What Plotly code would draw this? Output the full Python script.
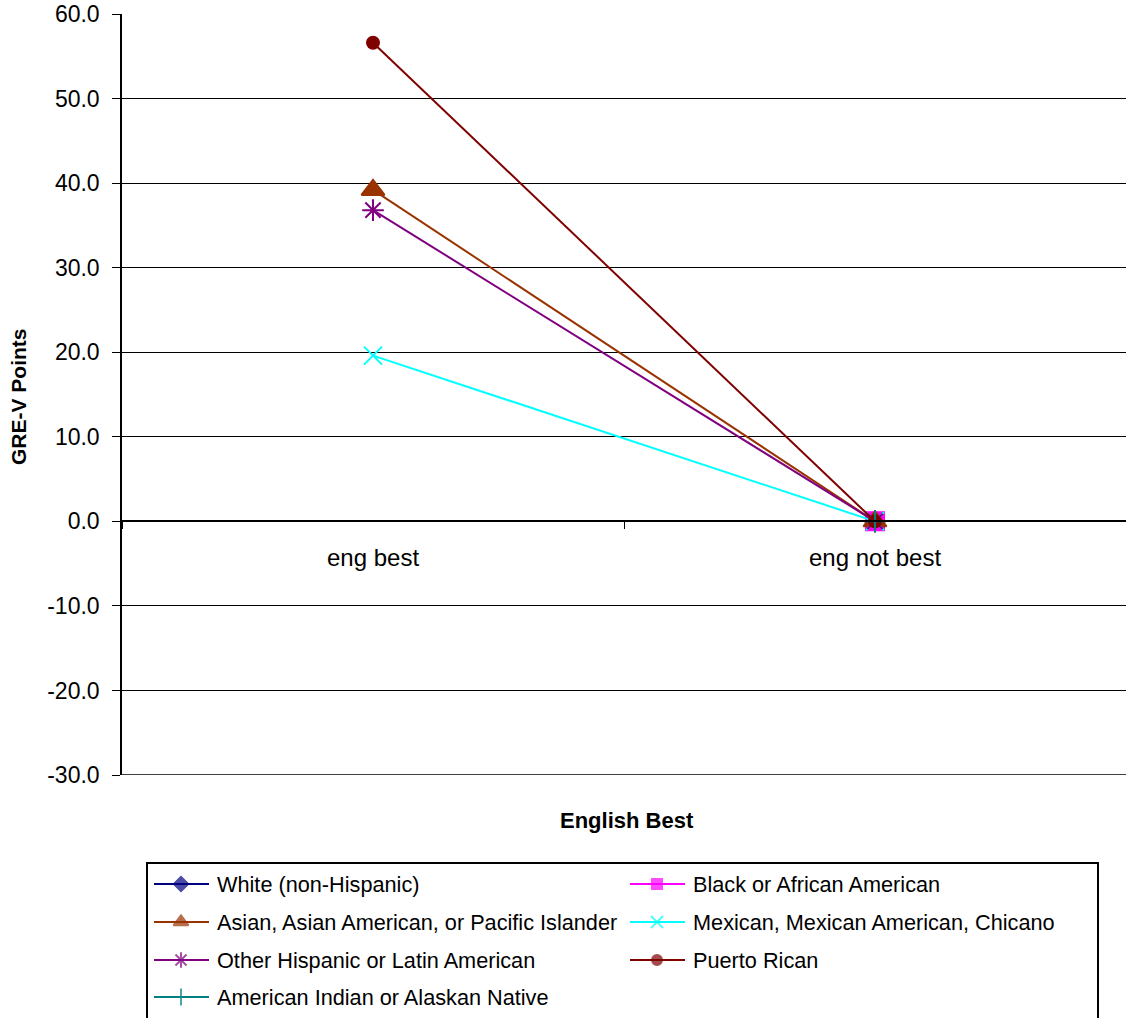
import plotly.graph_objects as go

# ---- data -------------------------------------------------------------
categories = ["eng best", "eng not best"]

series_names = [
    "White (non-Hispanic)",
    "Black or African American",
    "Asian, Asian American, or Pacific Islander",
    "Mexican, Mexican American, Chicano",
    "Other Hispanic or Latin American",
    "Puerto Rican",
    "American Indian or Alaskan Native",
]

white = [None, 0.0]
black = [None, 0.0]
asian = [39.2, 0.0]
mexican = [19.6, 0.0]
other_hispanic = [36.8, 0.0]
puerto_rican = [56.6, 0.0]
american_indian = [None, 0.0]

series_values = [white, black, asian, mexican, other_hispanic, puerto_rican, american_indian]

y_ticks = [-30, -20, -10, 0, 10, 20, 30, 40, 50, 60]

# ---- styling ----------------------------------------------------------
colors = ["#000080", "#FF00FF", "#993300", "#00FFFF", "#800080", "#800000", "#008080"]
symbols = ["diamond", "square", "triangle-up", "x-thin-open", "asterisk-open",
           "circle", "cross-thin-open"]
plot_sizes = [14, 18, 20, 18, 18, 12, 16]
legend_sizes = [11, 10, 13, 12, 13, 10, 12]

FONT = "Liberation Sans, Arial, sans-serif"
W, H = 1126, 1018
PLOT_L, PLOT_R, PLOT_T, PLOT_B = 122, 1126, 14, 775

fig = go.Figure()

for name, vals, col, sym, sz in zip(series_names, series_values, colors, symbols, plot_sizes):
    fig.add_trace(go.Scatter(
        x=categories, y=vals, name=name, mode="lines+markers",
        line=dict(color=col, width=2),
        marker=dict(symbol=sym, size=sz, color=col, line=dict(color=col, width=2)),
        connectgaps=False, showlegend=False, cliponaxis=False,
        xaxis="x", yaxis="y",
    ))

# ---- legend drawn on a full-page pixel axis -----------------------------
col_x = [154, 630]          # left end of sample line per column
row_y = [884, 922, 960, 997]
for i, (name, col, sym, sz) in enumerate(zip(series_names, colors, symbols, legend_sizes)):
    cx = col_x[i % 2]
    cy = row_y[i // 2]
    fig.add_trace(go.Scatter(
        x=[cx, cx + 27, cx + 55], y=[cy, cy, cy], mode="lines+markers",
        line=dict(color=col, width=2),
        marker=dict(symbol=sym, size=[0, sz, 0], color=col, line=dict(color=col, width=2)),
        showlegend=False, hoverinfo="skip", cliponaxis=False,
        xaxis="x2", yaxis="y2",
    ))
    fig.add_annotation(
        x=cx + 61, y=cy, xref="x2", yref="y2", text=name, showarrow=False,
        xanchor="left", yanchor="middle", font=dict(family=FONT, size=21.7, color="black"),
    )

fig.add_shape(type="rect", xref="x2", yref="y2", x0=147, x1=1098, y0=863, y1=1040,
              line=dict(color="black", width=2), fillcolor="rgba(0,0,0,0)", layer="below")

# bottom frame line of the plot area at the lowest y tick
fig.add_shape(type="line", xref="x domain", yref="y", x0=0, x1=1,
              y0=y_ticks[0], y1=y_ticks[0], line=dict(color="black", width=1.5))

# axis titles
fig.add_annotation(x=627, y=820, xref="x2", yref="y2", text="<b>English Best</b>",
                   showarrow=False, xanchor="center", yanchor="middle",
                   font=dict(family=FONT, size=22, color="black"))
fig.add_annotation(x=18, y=397, xref="x2", yref="y2", text="<b>GRE-V Points</b>",
                   showarrow=False, textangle=-90, xanchor="center", yanchor="middle",
                   font=dict(family=FONT, size=21, color="black"))

zero_pos = (H - (PLOT_T + (PLOT_B - PLOT_T) * 60 / 90)) / H

fig.update_layout(
    template="none",
    width=W, height=H, autosize=False,
    margin=dict(l=0, r=0, t=0, b=0, pad=0),
    paper_bgcolor="white", plot_bgcolor="rgba(0,0,0,0)",
    font=dict(family=FONT, color="black"),
    showlegend=False,
    xaxis=dict(
        type="category", categoryorder="array", categoryarray=categories,
        range=[-0.5, 1.5], domain=[PLOT_L / W, PLOT_R / W],
        anchor="free", position=zero_pos, automargin=False,
        showline=True, linecolor="black", linewidth=2,
        ticks="outside", tickson="boundaries", ticklen=7, tickcolor="black", tickwidth=1,
        showgrid=False, zeroline=False,
        tickfont=dict(family=FONT, size=24, color="black"),
        ticklabelstandoff=15,
    ),
    yaxis=dict(
        range=[-30, 60], domain=[(H - PLOT_B) / H, (H - PLOT_T) / H], anchor="x",
        automargin=False,
        tickvals=y_ticks, ticktext=[f"{v:.1f}" for v in y_ticks],
        showgrid=True, gridcolor="black", gridwidth=1,
        showline=True, linecolor="black", linewidth=1.5,
        ticks="outside", ticklen=8, tickcolor="black",
        zeroline=False,
        tickfont=dict(family=FONT, size=23, color="black"),
        ticklabelstandoff=8,
    ),
    xaxis2=dict(domain=[0, 1], range=[0, W], visible=False, anchor="y2",
                fixedrange=True, automargin=False),
    yaxis2=dict(domain=[0, 1], range=[H, 0], visible=False, anchor="x2",
                fixedrange=True, automargin=False),
)

fig.write_html("out.html")
